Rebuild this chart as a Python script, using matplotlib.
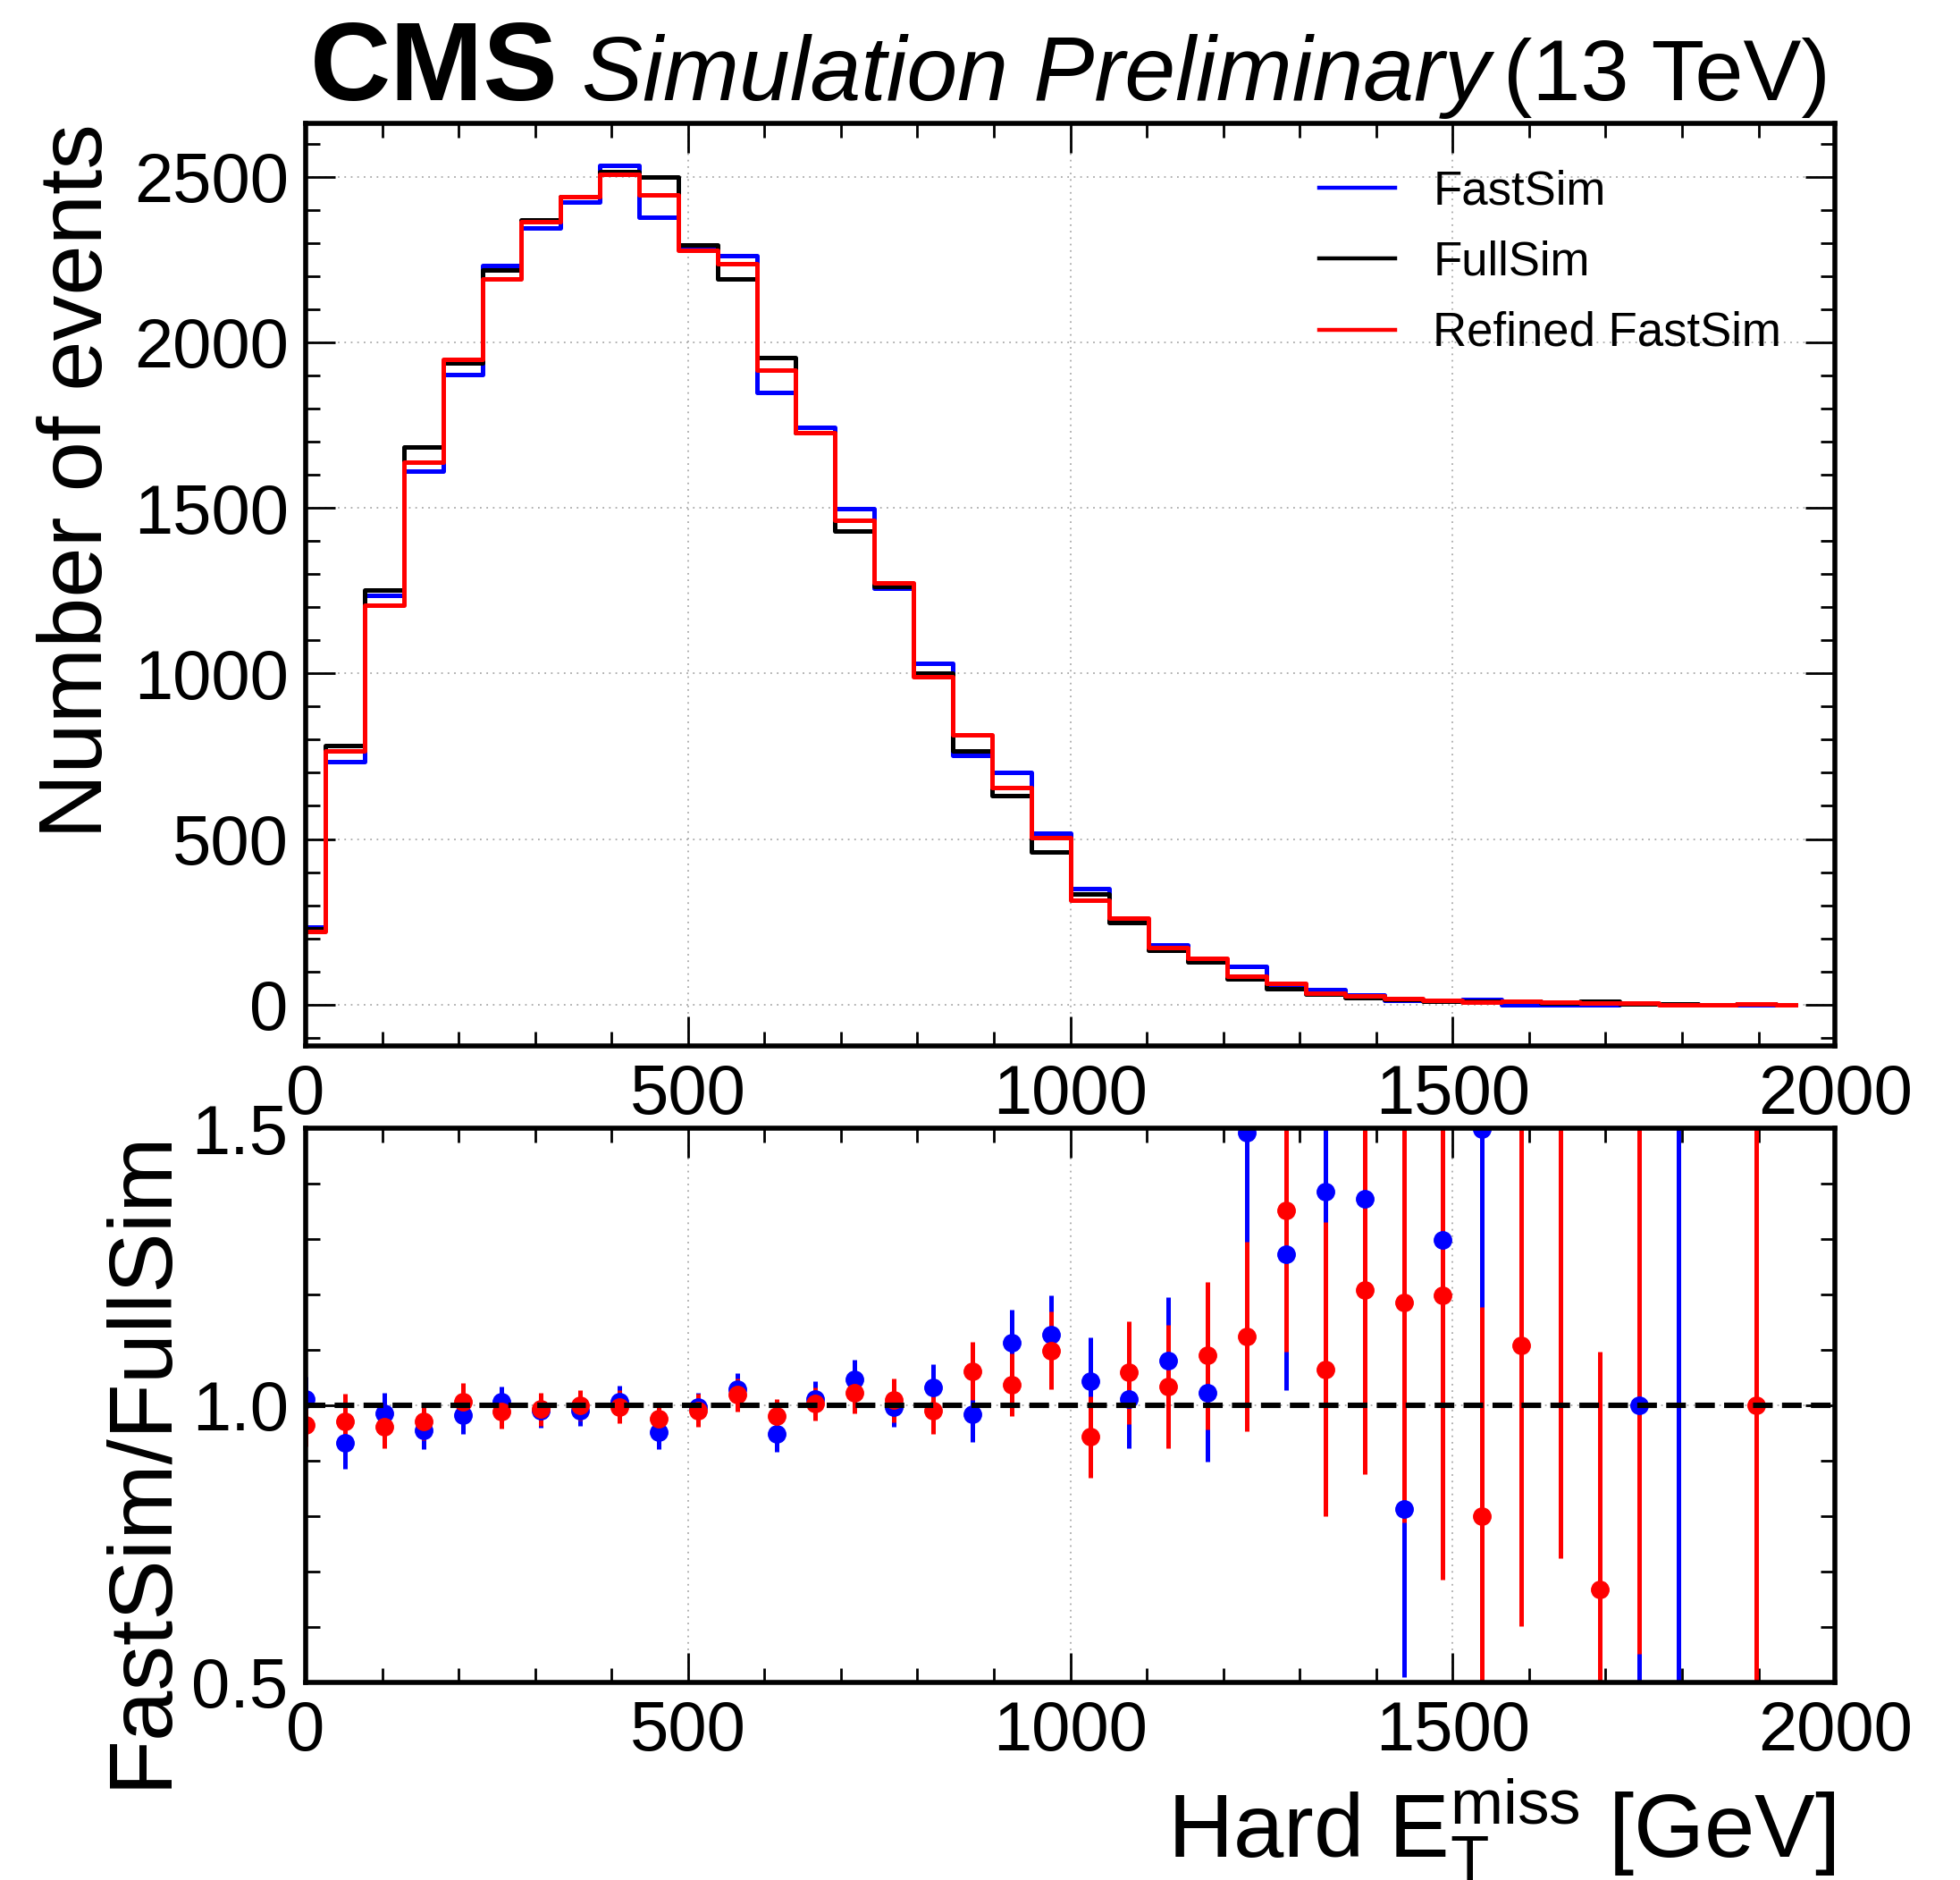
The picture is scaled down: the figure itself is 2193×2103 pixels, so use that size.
import matplotlib
matplotlib.use("Agg")
import matplotlib.pyplot as plt
import numpy as np
from matplotlib.ticker import MultipleLocator, FixedLocator

plt.rcParams['font.family'] = ['Liberation Sans', 'DejaVu Sans']
plt.rcParams['mathtext.fontset'] = 'custom'
plt.rcParams['mathtext.rm'] = 'Liberation Sans'
plt.rcParams['mathtext.it'] = 'Liberation Sans:italic'

nan = np.nan

# binning: 39 bins between 0 and 2000 GeV, drawn at the left edge
edges = np.linspace(0, 2000, 40)
x = edges[:-1]

# event counts per bin
fullsim = [228, 782, 1253, 1683, 1937, 2219, 2370, 2440, 2516, 2500, 2295, 2192, 1955,
           1728, 1430, 1262, 1000, 765, 630, 460, 334, 247, 165, 130, 77, 47, 32, 22,
           15, 11, 10, 9, 4, 9, 3, 1, 0, 1, 0]
fastsim = [235, 734, 1237, 1611, 1902, 2232, 2345, 2423, 2534, 2377, 2286, 2262, 1848,
           1744, 1497, 1258, 1030, 753, 700, 518, 349, 250, 180, 133, 115, 61, 44, 30,
           12, 14, 15, 0, 0, 0, 3, 3, 0, 0, 0]
refined = [222, 767, 1207, 1637, 1949, 2192, 2363, 2440, 2507, 2444, 2277, 2237, 1917,
           1728, 1462, 1273, 990, 815, 654, 505, 314, 261, 171, 141, 87, 64, 34, 27,
           18, 13, 8, 10, 7, 6, 6, 0, 0, 1, 0]

# ratios to FullSim with their uncertainties
ratio_fast = [1.012, 0.933, 0.985, 0.955, 0.983, 1.007, 0.990, 0.991, 1.006, 0.951,
              0.997, 1.029, 0.948, 1.012, 1.047, 0.997, 1.032, 0.984, 1.113, 1.127,
              1.043, 1.012, 1.080, 1.022, 1.492, 1.272, 1.385, 1.373, 0.813, 1.299,
              1.498, nan, nan, nan, 1.0, 2.0, nan, nan, nan]
err_fast = [0.040, 0.047, 0.038, 0.034, 0.034, 0.027, 0.030, 0.028, 0.029, 0.030,
            0.026, 0.029, 0.032, 0.032, 0.036, 0.036, 0.042, 0.050, 0.060, 0.072,
            0.080, 0.089, 0.115, 0.124, 0.220, 0.245, 0.300, 0.300, 0.303, 0.400,
            0.500, nan, nan, nan, 1.0, 2.0, nan, nan, nan]
ratio_ref = [0.965, 0.971, 0.962, 0.971, 1.006, 0.988, 0.993, 1.000, 0.997, 0.975,
             0.991, 1.019, 0.981, 1.003, 1.022, 1.009, 0.990, 1.062, 1.037, 1.099,
             0.943, 1.059, 1.034, 1.090, 1.124, 1.351, 1.065, 1.208, 1.186, 1.199,
             0.800, 1.108, 1.800, 0.667, 2.000, nan, nan, 1.0, nan]
err_ref = [0.040, 0.050, 0.040, 0.034, 0.034, 0.030, 0.030, 0.027, 0.030, 0.027,
           0.030, 0.030, 0.030, 0.030, 0.037, 0.040, 0.042, 0.052, 0.057, 0.070,
           0.073, 0.093, 0.111, 0.133, 0.171, 0.254, 0.265, 0.332, 0.397, 0.513,
           0.378, 0.506, 1.076, 0.430, 1.448, nan, nan, 1.0, nan]

BLUE = '#0000ff'
RED = '#ff0000'


def style_axis(ax):
    ax.tick_params(which='both', direction='in', top=True, right=True,
                   labelsize=56, width=2)
    ax.tick_params(which='major', length=24, pad=14)
    ax.tick_params(which='minor', length=11.5)
    for s in ax.spines.values():
        s.set_linewidth(4)
    ax.grid(True, which='major', color='#aaaaaa', linestyle=(0, (1, 3)), linewidth=1.3)
    ax.set_axisbelow(True)


fig = plt.figure(figsize=(21.93, 21.03), dpi=100)
ax = fig.add_axes([0.1560, 0.4438, 0.7802, 0.4904])
ax2 = fig.add_axes([0.1560, 0.1051, 0.7802, 0.2948])

# upper panel: histograms
ax.step(x, fastsim, where='mid', color=BLUE, lw=3.6, label='FastSim')
ax.step(x, fullsim, where='mid', color='black', lw=3.6, label='FullSim')
ax.step(x, refined, where='mid', color=RED, lw=3.6, label='Refined FastSim')
ax.set_xlim(0, 2000)
ax.set_ylim(-124, 2660)
ax.xaxis.set_major_locator(MultipleLocator(500))
ax.xaxis.set_minor_locator(MultipleLocator(100))
ax.yaxis.set_major_locator(MultipleLocator(500))
ax.yaxis.set_minor_locator(MultipleLocator(100))
style_axis(ax)
ax.set_ylabel('Number of events', fontsize=73, loc='top')
ax.yaxis.set_label_coords(-0.121, 1.0)

leg = ax.legend(loc='upper left', bbox_to_anchor=(0.663, 0.950), frameon=False,
                fontsize=38, borderpad=0, borderaxespad=0, handlelength=1.6,
                handletextpad=0.8, labelspacing=0.55)
for h in leg.get_lines():
    h.set_linewidth(3.2)

# lower panel: ratios
ax2.errorbar(x, ratio_fast, yerr=err_fast, fmt='o', color=BLUE, ms=14,
             elinewidth=3.6, capsize=0)
ax2.errorbar(x, ratio_ref, yerr=err_ref, fmt='o', color=RED, ms=14,
             elinewidth=3.6, capsize=0)
ax2.axhline(1.0, color='black', lw=4.4, ls='--', dashes=(3.6, 1.7), zorder=5)
ax2.set_xlim(0, 2000)
ax2.set_ylim(0.5, 1.5)
ax2.xaxis.set_major_locator(MultipleLocator(500))
ax2.xaxis.set_minor_locator(MultipleLocator(100))
ax2.yaxis.set_major_locator(FixedLocator([0.5, 1.0, 1.5]))
ax2.yaxis.set_minor_locator(MultipleLocator(0.1))
style_axis(ax2)
ax2.set_ylabel('FastSim/FullSim', fontsize=73, loc='top')
ax2.yaxis.set_label_coords(-0.080, 1.0)

fig.text(0.9362, 0.0125, r'Hard $\mathrm{E}_{\mathrm{T}}^{\mathrm{miss}}$ [GeV]',
         fontsize=73, ha='right', va='baseline')

# experiment label above the upper panel
y_lab = 1.0252
t_cms = ax.text(0.003, y_lab, 'CMS', transform=ax.transAxes, fontsize=90,
                fontweight='bold', ha='left', va='baseline')
fig.canvas.draw()
renderer = fig.canvas.get_renderer()
bb = t_cms.get_window_extent(renderer)
x_next = ax.transAxes.inverted().transform((bb.x1 + 26, bb.y0))[0]
ax.text(x_next, y_lab, 'Simulation Preliminary', transform=ax.transAxes,
        fontsize=73.5, style='italic', ha='left', va='baseline')
ax.text(0.997, y_lab, '(13 TeV)', transform=ax.transAxes, fontsize=70,
        ha='right', va='baseline')

fig.savefig('out.png', dpi=100)
